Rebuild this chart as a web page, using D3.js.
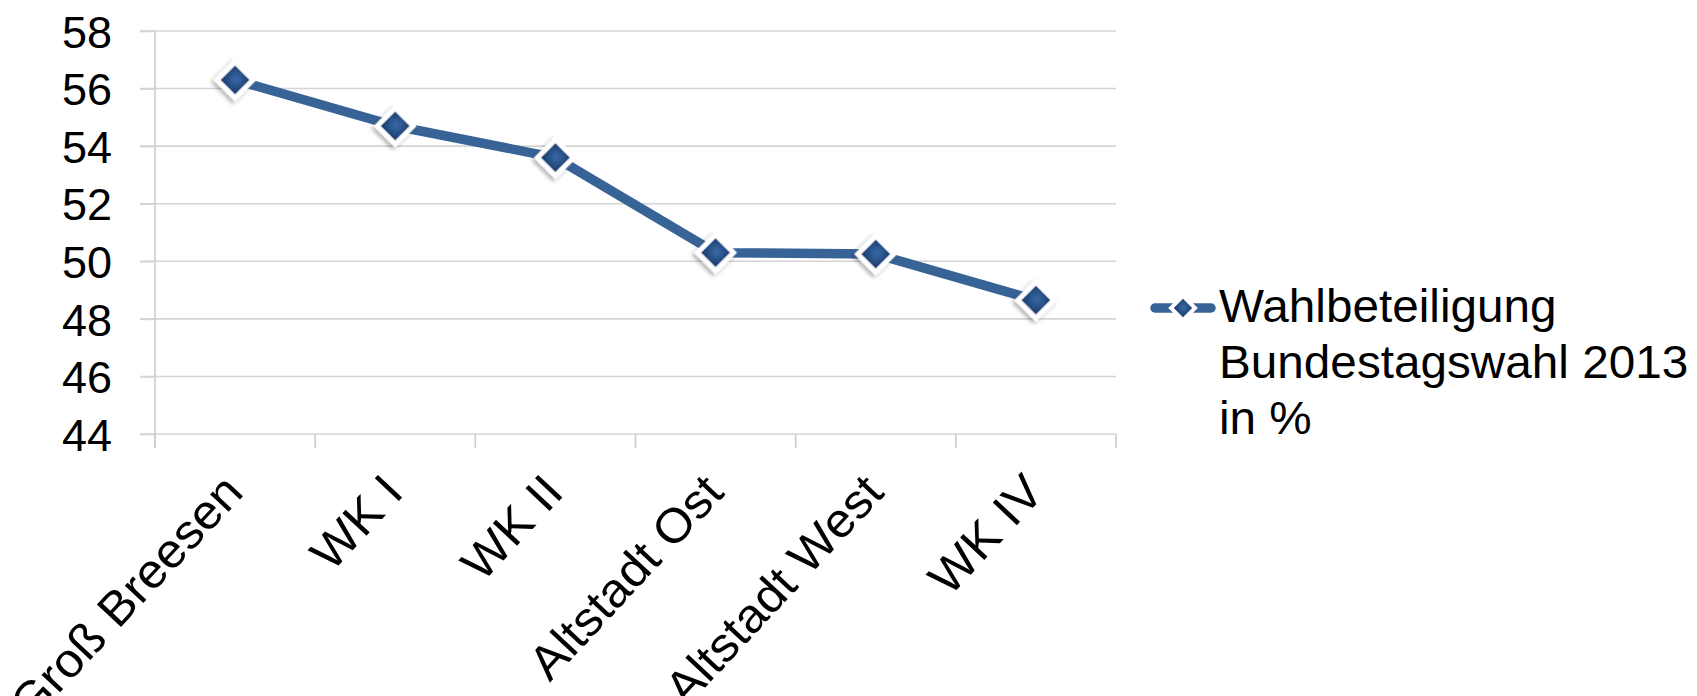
<!DOCTYPE html>
<html>
<head>
<meta charset="utf-8">
<script src="https://cdn.jsdelivr.net/npm/d3@7"></script>
<style>
  html, body { margin: 0; padding: 0; background: #ffffff; }
  svg { display: block; }
  text { font-family: "Liberation Sans", Arial, sans-serif; fill: #000; }
</style>
</head>
<body>
<svg id="chart" width="1697" height="696"></svg>
<script>
const categories = ["Groß Breesen", "WK I", "WK II", "Altstadt Ost", "Altstadt West", "WK IV"];
const values = [56.3, 54.7, 53.6, 50.3, 50.25, 48.65];
const yTicks = [44, 46, 48, 50, 52, 54, 56, 58];
const seriesName = ["Wahlbeteiligung", "Bundestagswahl 2013", "in %"];

(function () {
const svg = d3.select("#chart");
const pLeft = 155, pRight = 1116, pTop = 31, pBottom = 434;
const fontSize = 45;
const lineColor = "#386397";

const x = d3.scaleBand().domain(categories).range([pLeft, pRight]);
const y = d3.scaleLinear().domain([44, 58]).range([pBottom, pTop]);

const defs = svg.append("defs");
const grad = defs.append("radialGradient").attr("id", "mk").attr("cx", "50%").attr("cy", "45%").attr("r", "60%");
grad.append("stop").attr("offset", "0%").attr("stop-color", "#3a6aa6");
grad.append("stop").attr("offset", "100%").attr("stop-color", "#16386a");
const f = defs.append("filter").attr("id", "sh").attr("x", "-50%").attr("y", "-50%").attr("width", "200%").attr("height", "200%");
f.append("feDropShadow").attr("dx", 0).attr("dy", 3).attr("stdDeviation", 2.2).attr("flood-color", "#000").attr("flood-opacity", 0.35);

// gridlines
svg.append("g")
  .selectAll("line").data(yTicks).join("line")
  .attr("x1", pLeft - 15).attr("x2", pRight)
  .attr("y1", d => y(d)).attr("y2", d => y(d))
  .attr("stroke", "#d4d4d4").attr("stroke-width", 1.6);

// y axis
const yAxis = svg.append("g").attr("transform", `translate(${pLeft},0)`)
  .call(d3.axisLeft(y).tickValues(yTicks).tickSize(15).tickPadding(28).tickFormat(d3.format("d")));
yAxis.select(".domain").attr("stroke", "#cccccc").attr("stroke-width", 1.6)
  .attr("d", `M0,${pTop}V${pBottom + 14}`);
yAxis.selectAll(".tick line").attr("stroke", "#d4d4d4").attr("stroke-width", 1.6);
yAxis.selectAll(".tick text")
  .style("font-family", "'Liberation Sans', Arial, sans-serif")
  .style("font-size", fontSize + "px").attr("fill", "#000").attr("dy", "0.36em");

// x axis ticks at band edges
const edges = categories.map(c => x(c)).concat([x.range()[1]]);
svg.append("g").selectAll("line").data(edges).join("line")
  .attr("x1", d => d).attr("x2", d => d)
  .attr("y1", pBottom).attr("y2", pBottom + 14)
  .attr("stroke", "#cccccc").attr("stroke-width", 1.6);

// x labels
svg.append("g").selectAll("text").data(categories).join("text")
  .attr("transform", d => `translate(${x(d) + x.bandwidth() / 2 + 10},${pBottom + 60}) rotate(-47) scale(1.04,1)`)
  .attr("text-anchor", "end")
  .style("font-size", "48px")
  .text(d => d);

// line
const pts = categories.map((c, i) => [x(c) + x.bandwidth() / 2, y(values[i])]);
svg.append("path")
  .attr("d", d3.line()(pts))
  .attr("fill", "none").attr("stroke", lineColor).attr("stroke-width", 9.5)
  .attr("stroke-linejoin", "round");

// markers
const diamond = d3.symbol().type(d3.symbolSquare).size(2 * 18 * 18);
svg.append("g").selectAll("path").data(pts).join("path")
  .attr("d", diamond)
  .attr("transform", d => `translate(${d[0]},${d[1]}) rotate(45)`)
  .attr("fill", "url(#mk)").attr("stroke", "#ffffff").attr("stroke-width", 5)
  .attr("filter", "url(#sh)");

// legend
const lg = svg.append("g");
lg.append("line").attr("x1", 1155).attr("x2", 1211).attr("y1", 308).attr("y2", 308)
  .attr("stroke", lineColor).attr("stroke-width", 9.5).attr("stroke-linecap", "round");
lg.append("path")
  .attr("d", d3.symbol().type(d3.symbolSquare).size(2 * 12 * 12))
  .attr("transform", "translate(1183,308) rotate(45)")
  .attr("fill", "url(#mk)").attr("stroke", "#ffffff").attr("stroke-width", 4);
lg.append("g").selectAll("text").data(seriesName).join("text")
  .attr("transform", (d, i) => `translate(1219,${322 + i * 56}) scale(1.037,1)`)
  .style("font-size", "46px")
  .text(d => d);
})();
</script>
</body>
</html>
